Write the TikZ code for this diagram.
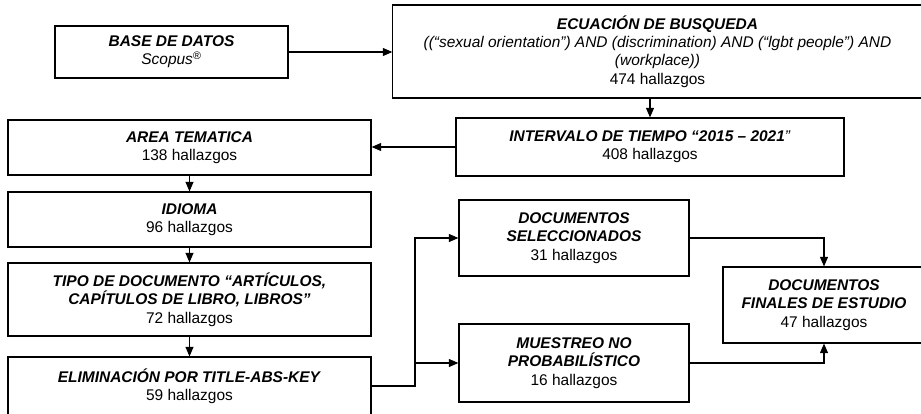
\documentclass[tikz,border=0pt]{standalone}
\usepackage{fontspec}
\setmainfont{Liberation Sans}
\usetikzlibrary{arrows.meta}
\tikzset{
  caja/.style={draw, line width=0.8pt, align=center, inner sep=0pt,
    font=\fontsize{11}{13}\selectfont},
  flecha/.style={line width=0.8pt, -{Triangle[length=2.4mm,width=2mm]}}
}
\newcommand{\titulo}[1]{\textbf{\textit{#1}}}
\begin{document}
\begin{tikzpicture}[x=0.025cm,y=-0.025cm]
\clip (0,0) rectangle (921,414);
% columna izquierda
\node[caja, minimum width=5.825cm, minimum height=1.3cm] (base) at (171.5,52)
  {\titulo{BASE DE DATOS}\\\textit{Scopus\textsuperscript{®}}};
\node[caja, minimum width=9.075cm, minimum height=1.375cm] (area) at (189.5,147.5)
  {\titulo{AREA TEMATICA}\\138 hallazgos};
\node[caja, minimum width=9.075cm, minimum height=1.375cm] (idioma) at (189.5,219.5)
  {\titulo{IDIOMA}\\96 hallazgos};
\node[caja, minimum width=9.075cm, minimum height=1.825cm] (tipo) at (189.5,299.5)
  {\titulo{TIPO DE DOCUMENTO “ARTÍCULOS,}\\\titulo{CAPÍTULOS DE LIBRO, LIBROS”}\\72 hallazgos};
\node[caja, minimum width=9.075cm, minimum height=1.45cm] (elim) at (189.5,386)
  {\titulo{ELIMINACIÓN POR TITLE-ABS-KEY}\\59 hallazgos};
% columna derecha
\node[caja, minimum width=13.225cm, minimum height=2.325cm] (ecuacion) at (657.5,51.5)
  {\titulo{ECUACIÓN DE BUSQUEDA}\\
   \textit{((“sexual orientation”) AND (discrimination) AND (“lgbt people”) AND}\\
   \textit{(workplace))}\\474 hallazgos};
\node[caja, minimum width=9.7cm, minimum height=1.45cm] (intervalo) at (650,147)
  {\titulo{INTERVALO DE TIEMPO “2015 – 2021}\textit{”}\\408 hallazgos};
\node[caja, minimum width=5.75cm, minimum height=1.9cm] (selec) at (574,238)
  {\titulo{DOCUMENTOS}\\\titulo{SELECCIONADOS}\\31 hallazgos};
\node[caja, minimum width=5.75cm, minimum height=1.95cm] (muestreo) at (574,363)
  {\titulo{MUESTREO NO}\\\titulo{PROBABILÍSTICO}\\16 hallazgos};
\node[caja, minimum width=5.05cm, minimum height=1.9cm] (finales) at (824,305)
  {\titulo{DOCUMENTOS}\\\titulo{FINALES DE ESTUDIO}\\47 hallazgos};
% conectores
\draw[flecha] (base.east) -- (base.east -| ecuacion.west);
\draw[flecha] (ecuacion.south -| intervalo.north) -- (intervalo.north);
\draw[flecha] (intervalo.west) -- (intervalo.west -| area.east);
\draw[flecha] (area.south) -- (idioma.north);
\draw[flecha] (idioma.south) -- (tipo.north);
\draw[flecha] (tipo.south) -- (elim.north);
\coordinate (bifur) at (415,386);
\draw[flecha] (elim.east |- bifur) -| (bifur |- selec.west) -- (selec.west);
\draw[flecha] (bifur |- muestreo.west) -- (muestreo.west);
\draw[flecha] (selec.east) -| (finales.north);
\draw[flecha] (muestreo.east) -| (finales.south);
\end{tikzpicture}
\end{document}
